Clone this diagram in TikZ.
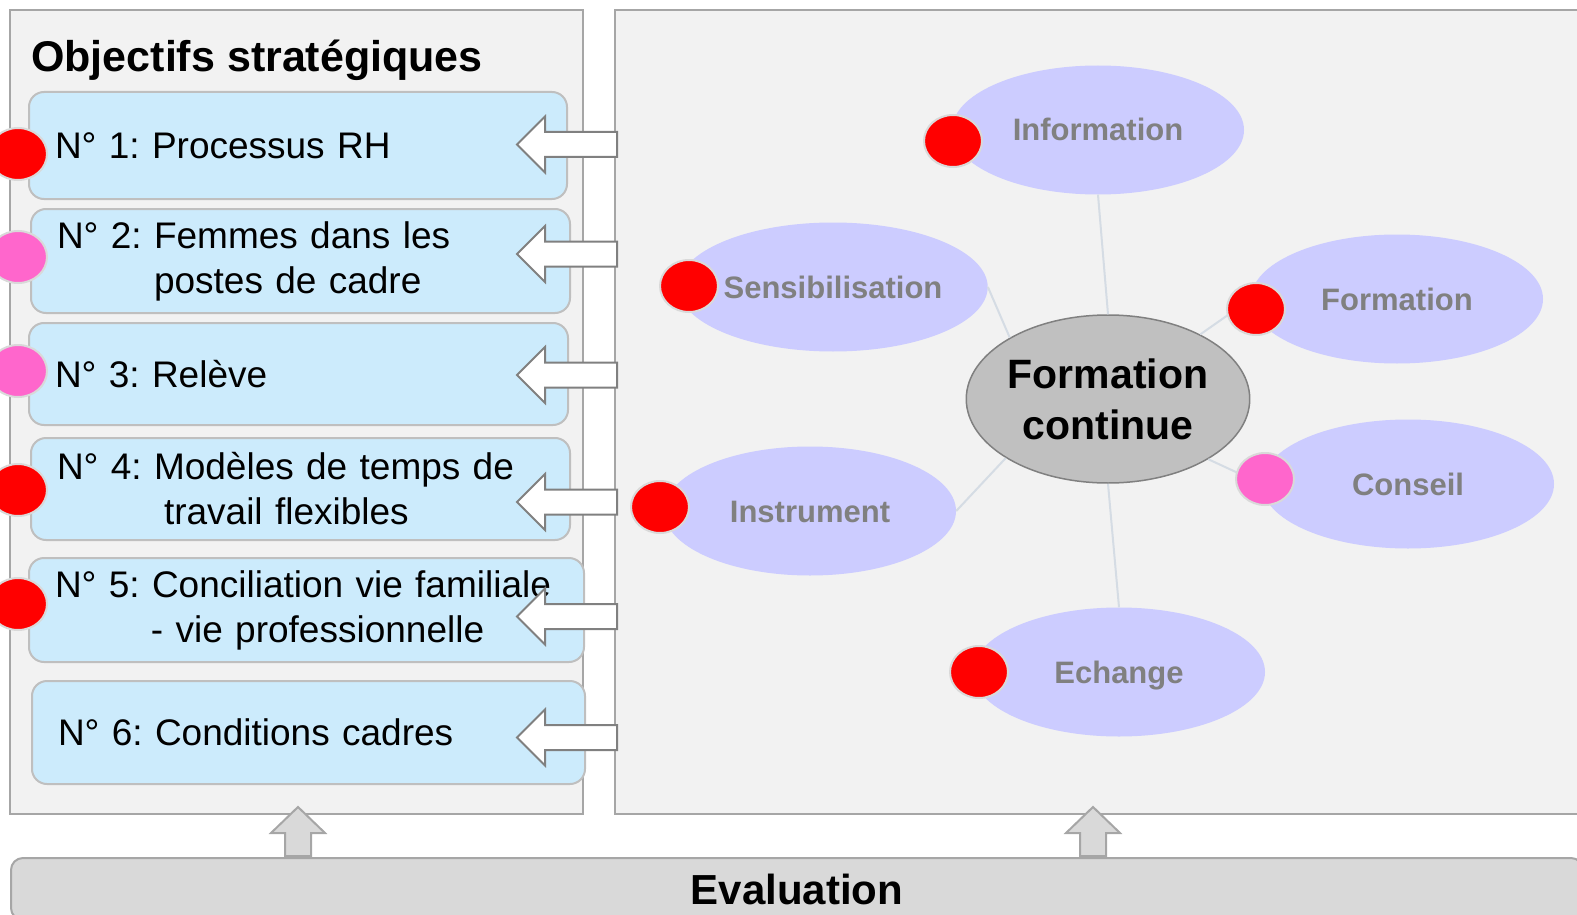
\documentclass[tikz,border=0pt]{standalone}
\usepackage{fontspec}
\setmainfont{Liberation Sans}
\usepackage{xcolor}
\usetikzlibrary{shapes.geometric}
\frenchspacing

\definecolor{panelgray}{HTML}{F2F2F2}
\definecolor{panelline}{HTML}{A6A6A6}
\definecolor{goalblue}{HTML}{CCEBFC}
\definecolor{goalline}{HTML}{BFBFBF}
\definecolor{topicblue}{HTML}{CCCCFF}
\definecolor{topictext}{HTML}{808080}
\definecolor{hubgray}{HTML}{C0C0C0}
\definecolor{dotpink}{HTML}{FF66CC}
\definecolor{dotline}{HTML}{D9D9D9}
\definecolor{linkgray}{HTML}{D5DCE4}
\definecolor{evalgray}{HTML}{D9D9D9}

\tikzset{
  panel/.style={draw=panelline, line width=2pt, fill=panelgray},
  goalbox/.style={draw=goalline, line width=2pt, fill=goalblue, rounded corners=15pt,
    anchor=north west, align=left, inner xsep=26pt, inner ysep=0pt,
    minimum height=#1, font=\fontsize{37}{45}\selectfont},
  topic/.style={ellipse, fill=topicblue, text=topictext, inner sep=0pt,
    minimum width=292pt, minimum height=129pt, text height=22pt, text depth=0pt,
    font=\bfseries\fontsize{31}{37}\selectfont},
  hub/.style={ellipse, draw=topictext, line width=1.5pt, fill=hubgray, inner sep=0pt,
    minimum width=278pt, minimum height=168pt, align=center,
    font=\bfseries\fontsize{41}{51}\selectfont},
  dotred/.style={ellipse, draw=dotline, line width=2pt, fill=red, inner sep=0pt,
    minimum width=58pt, minimum height=52pt},
  dotpk/.style={dotred, fill=dotpink},
  link/.style={draw=linkgray, line width=2pt},
  leftarrow/.pic={
    \draw[draw=topictext, line width=2pt, fill=white, line join=miter]
      (0,0) -- (28,-28) -- (28,-12.5) -- (100,-12.5) -- (100,12.5)
      -- (28,12.5) -- (28,28) -- cycle;
  },
  uparrow/.pic={
    \draw[draw=panelline, line width=2pt, fill=evalgray, line join=miter]
      (0,0) -- (27,26) -- (13,26) -- (13,49) -- (-13,49) -- (-13,26)
      -- (-27,26) -- cycle;
  }
}

\begin{document}
\begin{tikzpicture}[x=1pt, y=-1pt]
\useasboundingbox (0,0) rectangle (1577,915);
\clip (0,0) rectangle (1577,915);

% Panels
\draw[panel] (10,10) rectangle (583,814);
\draw[panel] (615,10) rectangle (1620,814);

% Title
\node[anchor=base west, inner sep=0pt, font=\bfseries\fontsize{43}{50}\selectfont]
  (title) at (31,72) {Objectifs stratégiques};

% Objectives
\node[goalbox=107pt, text width=486pt] (g1) at (28,91) {N° 1: Processus RH};
\node[goalbox=104pt, text width=487pt] (g2) at (30,208)
  {N° 2: Femmes dans les\\\hspace*{97pt}postes de cadre};
\node[goalbox=102pt, text width=487pt] (g3) at (28,322) {N° 3: Relève};
\node[goalbox=102pt, text width=487pt] (g4) at (30,437)
  {N° 4: Modèles de temps de\\\hspace*{107pt}travail flexibles};
\node[goalbox=104pt, text width=503pt] (g5) at (28,557)
  {N° 5: Conciliation vie familiale\\\hspace*{96pt}- vie professionnelle};
\node[goalbox=103pt, text width=501pt] (g6) at (31,680) {N° 6: Conditions cadres};

% Arrows from the right panel
\foreach \y in {144.5,254,375,502,616.5,737.5}
  \pic at (517,\y) {leftarrow};

% Priority dots
\node[dotred] (p1) at (18,154) {};
\node[dotpk]  (p2) at (18,257) {};
\node[dotpk]  (p3) at (18,371) {};
\node[dotred] (p4) at (18,490) {};
\node[dotred] (p5) at (18,604) {};

% Topics
\node[topic] (info) at (1098,130) {Information};
\node[topic] (sens) at (833,287) {Sensibilisation};
\node[topic] (form) at (1397,299) {Formation};
\node[topic] (cons) at (1408,484) {Conseil};
\node[topic] (inst) at (810,511) {Instrument};
\node[topic] (ech)  at (1119,672) {Echange};
\node[hub] (hub) at (1108,399) {Formation\\continue};

% Links
\draw[link] (hub.north) -- (info.south);
\draw[link] (hub.148) -- (sens.east);
\draw[link] (hub.35) -- (form.west);
\draw[link] (hub.329) -- (cons.west);
\draw[link] (hub.210) -- (inst.east);
\draw[link] (hub.south) -- (ech.north);

\node[dotred] (q1) at (953,141) {};
\node[dotred] (q2) at (689,286) {};
\node[dotred] (q3) at (1256,309) {};
\node[dotpk]  (q4) at (1265,479) {};
\node[dotred] (q5) at (660,507) {};
\node[dotred] (q6) at (979,672) {};

% Evaluation
\pic at (298,807) {uparrow};
\pic at (1093,807) {uparrow};
\node[draw=panelline, line width=2pt, fill=evalgray, rounded corners=12pt,
  anchor=north west, minimum width=1572pt, minimum height=62pt, inner sep=0pt,
  text height=30pt, text depth=0pt, font=\bfseries\fontsize{42}{50}\selectfont]
  (eval) at (10,857) {Evaluation};

\end{tikzpicture}
\end{document}
